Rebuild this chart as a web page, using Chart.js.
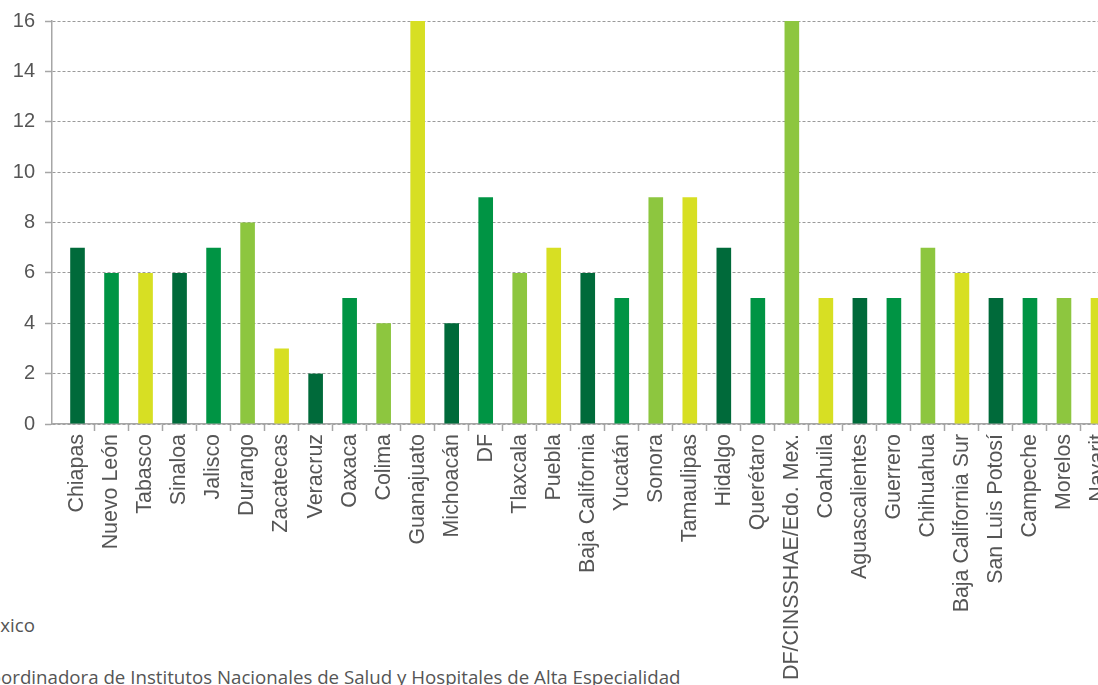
<!DOCTYPE html>
<html>
<head>
<meta charset="utf-8">
<script src="https://cdn.jsdelivr.net/npm/chart.js@4.4.1/dist/chart.umd.min.js"></script>
<style>
  html, body { margin: 0; padding: 0; background: #fff; overflow: hidden; }
  #page { position: relative; width: 1098px; height: 685px; overflow: hidden; }
  #wrap { position: absolute; left: 0; top: 0; width: 1115px; height: 685px; }
  .note { position: absolute; font-family: "Open Sans", sans-serif; font-size: 18.7px; line-height: 1.362; color: #555; white-space: nowrap; }
</style>
</head>
<body>
<div id="page">
  <div class="note" id="n1" style="left:-27px; top:612px;">México</div>
  <div class="note" id="n2" style="left:-22px; top:664px;">Coordinadora de Institutos Nacionales de Salud y Hospitales de Alta Especialidad</div>
  <div id="wrap"><canvas id="c"></canvas></div>
</div>
<script>
const categories = ["Chiapas","Nuevo León","Tabasco","Sinaloa","Jalisco","Durango","Zacatecas","Veracruz","Oaxaca","Colima","Guanajuato","Michoacán","DF","Tlaxcala","Puebla","Baja California","Yucatán","Sonora","Tamaulipas","Hidalgo","Querétaro","DF/CINSSHAE/Edo. Mex.","Coahuila","Aguascalientes","Guerrero","Chihuahua","Baja California Sur","San Luis Potosí","Campeche","Morelos","Nayarit"];
const values = [7,6,6,6,7,8,3,2,5,4,16,4,9,6,7,6,5,9,9,7,5,16,5,5,5,7,6,5,5,5,5];
const DARK = "#006a3a", MID = "#009444", LIGHT = "#8dc63f", YELLOW = "#d7df23";
const barColors = [DARK,MID,YELLOW,DARK,MID,LIGHT,YELLOW,DARK,MID,LIGHT,YELLOW,DARK,MID,LIGHT,YELLOW,DARK,MID,LIGHT,YELLOW,DARK,MID,LIGHT,YELLOW,DARK,MID,LIGHT,YELLOW,DARK,MID,LIGHT,YELLOW];
const yTicks = [0,2,4,6,8,10,12,14,16];

new Chart(document.getElementById("c"), {
  type: "bar",
  data: {
    labels: categories,
    datasets: [{ data: values, backgroundColor: barColors, borderWidth: 0, categoryPercentage: 1, barPercentage: 0.43 }]
  },
  options: {
    responsive: true,
    maintainAspectRatio: false,
    animation: false,
    events: [],
    layout: { padding: { top: 21, right: 0, bottom: 0, left: 0 } },
    plugins: { legend: { display: false }, tooltip: { enabled: false } },
    scales: {
      x: {
        offset: true,
        afterBuildTicks: (s) => { s._startValue -= 0.25; s._valueRange += 0.25; },
        afterFit: (s) => { s.height = 261; s.paddingLeft = 0; s.paddingRight = 0; },
        border: { display: true, color: "#a6a6a6", width: 1.5 },
        grid: { offset: true, drawOnChartArea: false, drawTicks: true, tickLength: 7,
                tickColor: (ctx) => ctx.index === 0 ? "rgba(0,0,0,0)" : "#a6a6a6", tickWidth: 1.5 },
        ticks: { autoSkip: false, maxRotation: 90, minRotation: 90, padding: 3, color: "#555",
                 font: { family: "'Liberation Sans', Arial, sans-serif", size: 21.4 } }
      },
      y: {
        min: 0, max: 16,
        afterBuildTicks: (s) => { s.ticks = yTicks.map(v => ({ value: v })); },
        afterFit: (s) => { s.width = 52; s.paddingTop = 0; s.paddingBottom = 0; },
        border: { display: true, color: "#a6a6a6", width: 1.5, dash: [3, 2] },
        grid: { color: "#9a9a9a", lineWidth: 1, drawTicks: true, tickLength: 7,
                tickColor: "#a6a6a6", tickBorderDash: [], tickWidth: 1.5 },
        ticks: { padding: 10, color: "#555",
                 font: { family: "'Liberation Sans', Arial, sans-serif", size: 20 } }
      }
    }
  }
});
</script>
</body>
</html>
